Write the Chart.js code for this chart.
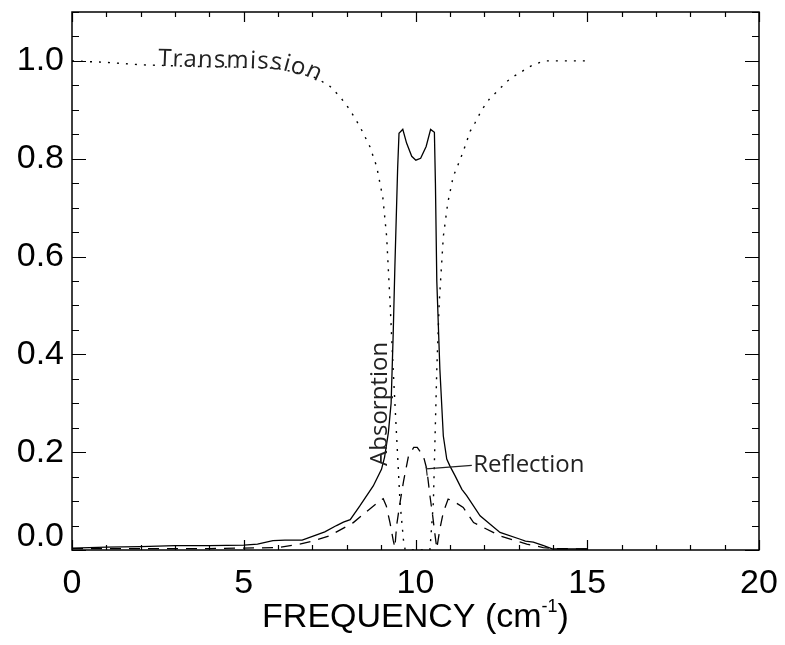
<!DOCTYPE html>
<html>
<head>
<meta charset="utf-8">
<script src="https://cdn.jsdelivr.net/npm/chart.js@4.4.0/dist/chart.umd.min.js"></script>
<style>
html, body { margin: 0; padding: 0; background: #fff; }
</style>
</head>
<body>
<canvas id="chart" width="785" height="645"></canvas>
<script>
// values
const transFreq = [0, 1, 2, 3, 4, 5, 5.95, 6.5, 7.12, 7.51, 7.8, 8.09, 8.38, 8.67, 8.87, 9.05, 9.16, 9.26, 9.35, 9.45, 9.55, 9.65, 9.7,
    10.42, 10.52, 10.57, 10.62, 10.69, 10.81, 10.94, 11.1, 11.3, 11.44, 11.59, 11.73, 11.93, 12.17, 12.37, 12.66, 12.85, 13.05, 13.24, 13.43, 13.63, 13.82, 15];
const transVals = [1.0, 0.997, 0.992, 0.99, 0.988, 0.987, 0.985, 0.977, 0.965, 0.948, 0.927, 0.9, 0.866, 0.825, 0.784, 0.72, 0.641, 0.505, 0.369, 0.233, 0.097, 0.02, 0.0,
    0.0, 0.097, 0.233, 0.369, 0.505, 0.641, 0.71, 0.764, 0.798, 0.825, 0.856, 0.873, 0.9, 0.924, 0.937, 0.958, 0.968, 0.976, 0.985, 0.992, 0.997, 1.0, 1.0];

const absFreq = [0, 1, 2, 3, 4, 5, 5.4, 5.85, 6.2, 6.7, 7.0, 7.36, 7.7, 7.9, 8.1, 8.38, 8.77, 9.01, 9.1, 9.21, 9.29, 9.35, 9.4, 9.48, 9.52,
    9.63, 9.74, 9.89, 10.01, 10.15, 10.31, 10.44, 10.55, 10.58, 10.62, 10.71, 10.81, 10.91, 11.0, 11.15, 11.35, 11.49, 11.88, 12.46, 13.05, 13.2, 13.43, 13.6, 13.73, 14, 15];
const absVals = [0.004, 0.006, 0.007, 0.009, 0.009, 0.01, 0.012, 0.019, 0.02, 0.02, 0.028, 0.037, 0.05, 0.057, 0.062, 0.09, 0.131, 0.165, 0.19, 0.24, 0.30, 0.44, 0.58, 0.78, 0.852,
    0.86, 0.832, 0.805, 0.797, 0.801, 0.825, 0.86, 0.854, 0.75, 0.55, 0.369, 0.233, 0.186, 0.172, 0.152, 0.124, 0.111, 0.07, 0.036, 0.022, 0.018, 0.016, 0.012, 0.009, 0.002, 0.002];

const reflFreq = [0, 2, 4, 6, 6.63, 7.0, 7.5, 8.19, 8.67, 8.96, 9.06, 9.15, 9.26, 9.35, 9.4, 9.45, 9.55, 9.65, 9.79, 9.95, 10.05, 10.23, 10.33, 10.42, 10.5, 10.57, 10.62,
    10.71, 10.81, 10.95, 11.1, 11.39, 11.69, 12.46, 13.24, 13.72, 14, 15];
const reflVals = [0.003, 0.003, 0.003, 0.005, 0.012, 0.018, 0.029, 0.056, 0.084, 0.1, 0.105, 0.09, 0.055, 0.02, 0.005, 0.05, 0.097, 0.14, 0.19, 0.21, 0.21, 0.192, 0.165, 0.111, 0.07, 0.03, 0.003,
    0.043, 0.077, 0.104, 0.1, 0.087, 0.056, 0.029, 0.012, 0.005, 0.003, 0.002];

const xTicks = [0, 5, 10, 15, 20];
const yTicks = [0.0, 0.2, 0.4, 0.6, 0.8, 1.0];

function pairs(xs, ys) {
    return xs.map((x, i) => ({ x: x, y: ys[i] }));
}

// walk along a pixel polyline
function pointAt(path, s) {
    for (let i = 1; i < path.length; i++) {
        const x0 = path[i - 1][0], y0 = path[i - 1][1], x1 = path[i][0], y1 = path[i][1];
        const d = Math.hypot(x1 - x0, y1 - y0);
        if (s <= d) {
            const t = d ? s / d : 0;
            return [x0 + (x1 - x0) * t, y0 + (y1 - y0) * t];
        }
        s -= d;
    }
    return path[path.length - 1];
}

function arcTo(path, px) {
    let s = 0;
    for (let i = 1; i < path.length; i++) {
        const x0 = path[i - 1][0], y0 = path[i - 1][1], x1 = path[i][0], y1 = path[i][1];
        const d = Math.hypot(x1 - x0, y1 - y0);
        if (px <= x1) return s + d * (px - x0) / (x1 - x0);
        s += d;
    }
    return s;
}

const framePlugin = {
    id: 'frame',
    afterDraw(chart) {
        const ctx = chart.ctx;
        const a = chart.chartArea;
        const xs = chart.scales.x, ys = chart.scales.y;
        ctx.save();
        ctx.strokeStyle = '#000';
        ctx.lineWidth = 1.5;
        ctx.strokeRect(a.left, a.top, a.right - a.left, a.bottom - a.top);

        ctx.lineWidth = 1.2;
        ctx.beginPath();
        for (let v = 0; v <= 20; v++) {
            const px = Math.round(xs.getPixelForValue(v)) + 0.5;
            const len = v % 5 === 0 ? 10 : 5;
            ctx.moveTo(px, a.bottom); ctx.lineTo(px, a.bottom - len);
            ctx.moveTo(px, a.top); ctx.lineTo(px, a.top + len);
        }
        for (let k = 0; k <= 22; k++) {
            const py = Math.round(ys.getPixelForValue(k * 0.05)) + 0.5;
            const len = k % 4 === 0 ? 14 : 7;
            ctx.moveTo(a.left, py); ctx.lineTo(a.left + len, py);
            ctx.moveTo(a.right, py); ctx.lineTo(a.right - len, py);
        }
        ctx.stroke();

        // tick labels
        ctx.fillStyle = '#000';
        ctx.font = '34px "Liberation Sans", Arial, sans-serif';
        ctx.textAlign = 'center';
        ctx.textBaseline = 'alphabetic';
        xTicks.forEach(v => ctx.fillText(String(v), xs.getPixelForValue(v), 593));
        ctx.textAlign = 'right';
        ctx.textBaseline = 'middle';
        yTicks.forEach(v => {
            const py = Math.min(ys.getPixelForValue(v), a.bottom - 13);
            ctx.fillText(v.toFixed(1), 64, py);
        });

        // axis title with superscript
        ctx.textBaseline = 'alphabetic';
        ctx.textAlign = 'left';
        const t1 = 'FREQUENCY (cm', t2 = '-1', t3 = ')';
        ctx.font = '34px "Liberation Sans", Arial, sans-serif';
        const w1 = ctx.measureText(t1).width, w3 = ctx.measureText(t3).width;
        ctx.font = '18px "Liberation Sans", Arial, sans-serif';
        const w2 = ctx.measureText(t2).width;
        let tx = (a.left + a.right) / 2 - (w1 + w2 + w3) / 2;
        ctx.font = '34px "Liberation Sans", Arial, sans-serif';
        ctx.fillText(t1, tx, 627);
        ctx.font = '18px "Liberation Sans", Arial, sans-serif';
        ctx.fillText(t2, tx + w1, 612);
        ctx.font = '34px "Liberation Sans", Arial, sans-serif';
        ctx.fillText(t3, tx + w1 + w2, 627);

        // annotations
        ctx.fillStyle = '#222';
        ctx.strokeStyle = '#222';
        ctx.font = '24px "Open Sans", sans-serif';
        ctx.textAlign = 'left';
        ctx.fillText('Reflection', xs.getPixelForValue(11.68), ys.getPixelForValue(0.159));
        ctx.lineWidth = 1.2;
        ctx.beginPath();
        ctx.moveTo(xs.getPixelForValue(10.31), ys.getPixelForValue(0.166));
        ctx.lineTo(xs.getPixelForValue(11.64), ys.getPixelForValue(0.173));
        ctx.moveTo(xs.getPixelForValue(10.31), ys.getPixelForValue(0.170));
        ctx.lineTo(xs.getPixelForValue(10.34), ys.getPixelForValue(0.152));
        ctx.stroke();

        ctx.save();
        ctx.translate(xs.getPixelForValue(9.17), ys.getPixelForValue(0.172));
        ctx.rotate(-Math.PI / 2);
        ctx.fillText('Absorption', 0, 0);
        ctx.restore();

        // Transmission label following its curve
        const path = [];
        for (let i = 0; i < transFreq.length && transFreq[i] <= 9; i++) {
            path.push([xs.getPixelForValue(transFreq[i]), ys.getPixelForValue(transVals[i])]);
        }
        let s = arcTo(path, xs.getPixelForValue(2.5));
        const label = 'Transmission';
        for (const ch of label) {
            const w = ctx.measureText(ch).width + 1.2;
            const p0 = pointAt(path, s), p1 = pointAt(path, s + w);
            const ang = Math.atan2(p1[1] - p0[1], p1[0] - p0[0]) * 1.3;
            ctx.save();
            ctx.translate(p0[0], p0[1] + 0.5);
            ctx.rotate(ang);
            ctx.fillText(ch, 0, 0);
            ctx.restore();
            s += w;
        }
        ctx.restore();
    }
};

new Chart(document.getElementById('chart').getContext('2d'), {
    type: 'line',
    data: {
        datasets: [
            {
                label: 'Transmission',
                data: pairs(transFreq, transVals),
                borderColor: '#000',
                borderWidth: 1.4,
                borderDash: [2, 7],
                pointRadius: 0,
                tension: 0
            },
            {
                label: 'Absorption',
                data: pairs(absFreq, absVals),
                borderColor: '#000',
                borderWidth: 1.3,
                pointRadius: 0,
                tension: 0
            },
            {
                label: 'Reflection',
                data: pairs(reflFreq, reflVals),
                borderColor: '#000',
                borderWidth: 1.3,
                borderDash: [11, 8],
                pointRadius: 0,
                tension: 0
            }
        ]
    },
    options: {
        responsive: false,
        animation: false,
        devicePixelRatio: 1,
        layout: {
            padding: { left: 72, right: 26, top: 12, bottom: 95 }
        },
        scales: {
            x: { type: 'linear', min: 0, max: 20, display: false },
            y: { type: 'linear', min: 0, max: 1.1, display: false }
        },
        plugins: {
            legend: { display: false },
            tooltip: { enabled: false }
        }
    },
    plugins: [framePlugin]
});
</script>
</body>
</html>
